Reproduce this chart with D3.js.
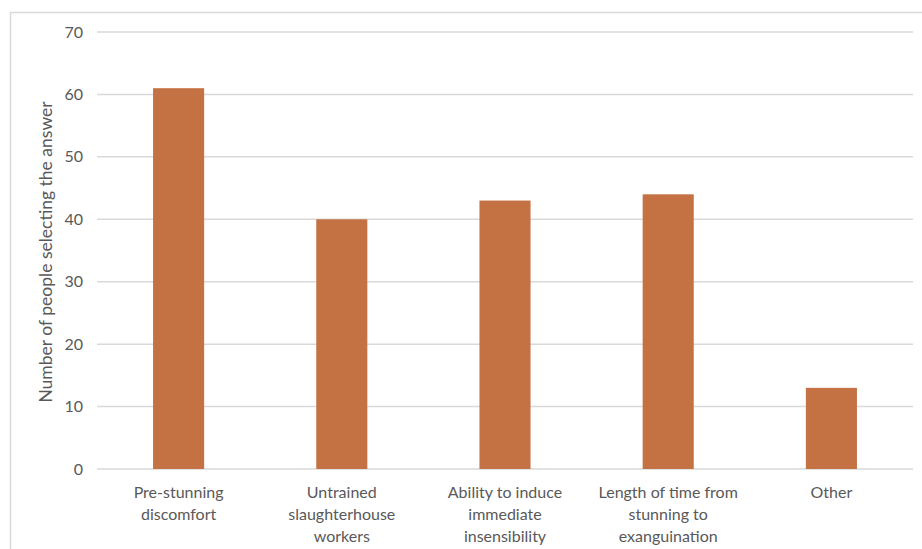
<!DOCTYPE html>
<html>
<head>
<meta charset="utf-8">
<script src="https://cdn.jsdelivr.net/npm/d3@7"></script>
<style>
  html, body { margin: 0; padding: 0; background: #fff; }
  svg { display: block; }
</style>
</head>
<body>
<svg id="chart" width="922" height="549"></svg>
<script>
const categories = [
  ["Pre-stunning", "discomfort"],
  ["Untrained", "slaughterhouse", "workers"],
  ["Ability to induce", "immediate", "insensibility"],
  ["Length of time from", "stunning to", "exanguination"],
  ["Other"]
];
const values = [61, 40, 43, 44, 13];
const yTicks = [0, 10, 20, 30, 40, 50, 60, 70];
const yTitle = "Number of people selecting the answer";

(function draw() {
  const svg = d3.select("#chart");
  const font = "Lato, 'Open Sans', sans-serif";
  const textColor = "#595959";
  const gridColor = "#d9d9d9";

  // chart frame
  svg.append("rect")
    .attr("x", 10.5).attr("y", 12.5)
    .attr("width", 940).attr("height", 560)
    .attr("fill", "none").attr("stroke", gridColor).attr("stroke-width", 1.5);

  const plotLeft = 97, plotRight = 913, plotTop = 32, plotBottom = 469;

  const x = d3.scaleBand()
    .domain(d3.range(categories.length))
    .range([plotLeft, plotRight])
    .paddingInner(0.687).paddingOuter(0.3435);

  const y = d3.scaleLinear().domain([0, 70]).range([plotBottom, plotTop]);

  // gridlines
  svg.append("g")
    .selectAll("line")
    .data(yTicks)
    .join("line")
    .attr("x1", plotLeft).attr("x2", plotRight)
    .attr("y1", d => y(d)).attr("y2", d => y(d))
    .attr("stroke", gridColor).attr("stroke-width", 1.5);

  // y tick labels
  svg.append("g")
    .selectAll("text")
    .data(yTicks)
    .join("text")
    .attr("x", 83).attr("y", d => y(d))
    .attr("dy", "0.35em")
    .attr("text-anchor", "end")
    .attr("font-family", font).attr("font-size", 16)
    .attr("fill", textColor)
    .text(d => d);

  // bars
  svg.append("g")
    .selectAll("rect")
    .data(values)
    .join("rect")
    .attr("x", (d, i) => x(i))
    .attr("width", x.bandwidth())
    .attr("y", d => y(d))
    .attr("height", d => y(0) - y(d))
    .attr("fill", "#c47244");

  // category labels
  const cat = svg.append("g")
    .selectAll("text")
    .data(categories)
    .join("text")
    .attr("x", (d, i) => x(i) + x.bandwidth() / 2)
    .attr("y", 498)
    .attr("text-anchor", "middle")
    .attr("font-family", font).attr("font-size", 16)
    .attr("fill", textColor);
  cat.selectAll("tspan")
    .data(d => d)
    .join("tspan")
    .attr("x", function () { return d3.select(this.parentNode).attr("x"); })
    .attr("dy", (d, i) => i === 0 ? 0 : 22)
    .text(d => d);

  // y axis title
  svg.append("text")
    .attr("transform", "translate(52, 252) rotate(-90)")
    .attr("text-anchor", "middle")
    .attr("font-family", font).attr("font-size", 17.5)
    .attr("fill", textColor)
    .text(yTitle);
})();
</script>
</body>
</html>
